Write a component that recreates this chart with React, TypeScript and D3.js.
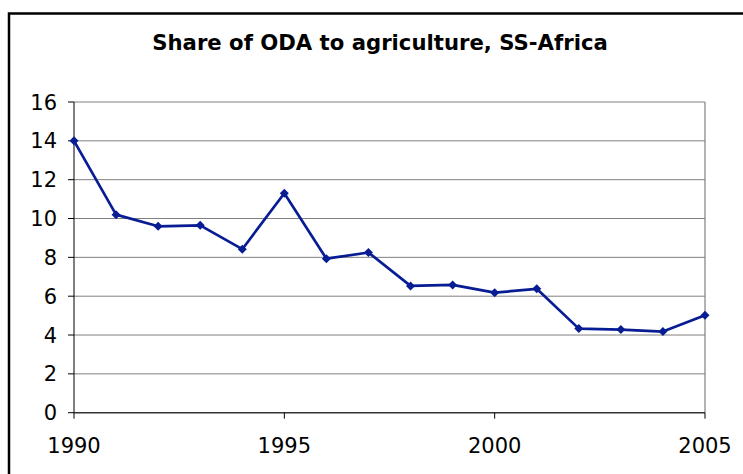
import React from "react";
import * as d3 from "d3";

const years = [1990,1991,1992,1993,1994,1995,1996,1997,1998,1999,2000,2001,2002,2003,2004,2005];
const shares = [14.0,10.2,9.6,9.65,8.42,11.3,7.93,8.25,6.53,6.58,6.18,6.38,4.33,4.28,4.18,5.02];
const yTicks = [0,2,4,6,8,10,12,14,16];
const xTicks = [1990,1995,2000,2005];
const title = "Share of ODA to agriculture, SS-Africa";

const W = 743, H = 474;
const left = 74, right = 705, top = 102, bottom = 412.7;

export default function App() {
  const x = d3.scaleLinear().domain([1990, 2005]).range([left, right]);
  const y = d3.scaleLinear().domain([0, 16]).range([bottom, top]);
  const line = d3.line<number>().x((_, i) => x(years[i])).y(d => y(d));
  const font = "Verdana, 'DejaVu Sans', sans-serif";
  const color = "#081c94";
  const diamond = (cx: number, cy: number) => {
    const r = 4.5;
    return `M${cx},${cy - r}L${cx + r},${cy}L${cx},${cy + r}L${cx - r},${cy}Z`;
  };
  return (
    <svg width={W} height={H} style={{ position: "absolute", left: 0, top: 0, background: "#fff" }}>
      <rect x={0} y={0} width={W} height={H} fill="#fff" />
      <rect x={9} y={13.5} width={800} height={600} fill="none" stroke="#000" strokeWidth={2.5} />
      <text x={380} y={49.5} textAnchor="middle" fontFamily={font} fontWeight="bold" fontSize={21.2} fill="#000">{title}</text>
      {yTicks.map(t => (
        <g key={t}>
          {t > 0 && <line x1={left} x2={right} y1={y(t)} y2={y(t)} stroke="#808080" strokeWidth={1} />}
          <line x1={left - 6} x2={left} y1={y(t)} y2={y(t)} stroke="#000" strokeWidth={1} />
          <text x={57} y={y(t)} dy="0.36em" textAnchor="end" fontFamily={font} fontSize={21} fill="#000">{t}</text>
        </g>
      ))}
      <line x1={right} x2={right} y1={top} y2={bottom} stroke="#808080" strokeWidth={1.2} />
      <line x1={left} x2={left} y1={top} y2={bottom} stroke="#000" strokeWidth={1} />
      <line x1={left} x2={right} y1={bottom} y2={bottom} stroke="#333" strokeWidth={1.5} />
      {xTicks.map(t => (
        <g key={t}>
          <line x1={x(t)} x2={x(t)} y1={bottom} y2={bottom + 6} stroke="#000" strokeWidth={1} />
          <text x={x(t)} y={453.3} textAnchor="middle" fontFamily={font} fontSize={21} fill="#000">{t}</text>
        </g>
      ))}
      <path d={line(shares) || ""} fill="none" stroke={color} strokeWidth={2.7} strokeLinejoin="round" />
      {shares.map((v, i) => (
        <path key={i} d={diamond(x(years[i]), y(v))} fill={color} />
      ))}
    </svg>
  );
}
